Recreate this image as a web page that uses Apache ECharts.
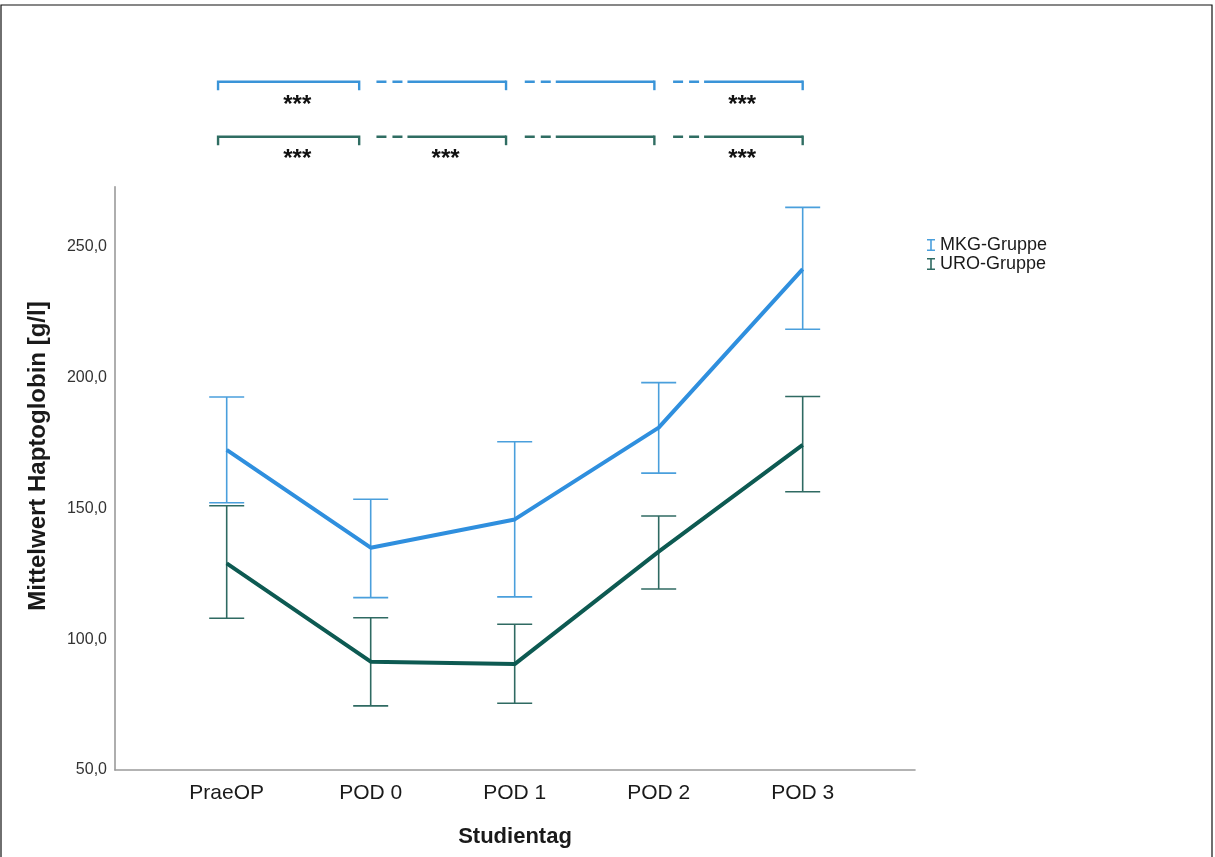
<!DOCTYPE html>
<html>
<head>
<meta charset="utf-8">
<script src="https://cdn.jsdelivr.net/npm/echarts@6/dist/echarts.min.js"></script>
<style>
html,body{margin:0;padding:0;background:#fff;}
#c{width:1215px;height:857px;}
</style>
</head>
<body>
<div id="c"></div>
<script>
// ---- data ----
const categories = ['PraeOP', 'POD 0', 'POD 1', 'POD 2', 'POD 3'];
const mkgMean = [172.4, 135.0, 145.8, 180.9, 241.5];
const mkgLow  = [152.2, 115.9, 116.2, 163.5, 218.5];
const mkgHigh = [192.6, 153.5, 175.5, 198.1, 265.1];
const uroMean = [129.0, 91.4, 90.5, 133.5, 174.3];
const uroLow  = [108.0, 74.5, 75.5, 119.2, 156.4];
const uroHigh = [151.0, 108.2, 105.7, 147.1, 192.8];
const yTicks = [50, 100, 150, 200, 250];
const seriesNames = ['MKG-Gruppe', 'URO-Gruppe'];
// significance brackets (x in category units)
const bracketStart = [-0.06, 1.04, 2.07, 3.10];
const bracketEnd   = [0.92, 1.94, 2.97, 4.00];
const bracketDashed = [false, true, true, true];
const starsX = [0.49, 1.52, 2.50, 3.58];
const starsMKG = ['***', '', '', '***'];
const starsURO = ['***', '***', '', '***'];

const C_MKG_LINE = '#2f8fde', C_MKG_BAR = '#4a9fdc';
const C_URO_LINE = '#0d5a52', C_URO_BAR = '#2f6a62';
const FONT = 'Liberation Sans, Arial, sans-serif';
const X_MIN = -0.7757, X_MAX = 4.78;

const chart = echarts.init(document.getElementById('c'), null, {renderer: 'canvas'});

function errorBarSeries(name, low, high, color) {
  return {
    name: name, type: 'custom', xAxisIndex: 0, yAxisIndex: 0, z: 2,
    data: low.map((v, i) => [i, v, high[i]]),
    encode: {x: 0, y: [1, 2]},
    renderItem: function (params, api) {
      const x = api.value(0);
      const lo = api.coord([x, api.value(1)]);
      const hi = api.coord([x, api.value(2)]);
      const hw = 17.5;
      const st = {stroke: color, lineWidth: 1.6};
      return {type: 'group', children: [
        {type: 'line', shape: {x1: lo[0], y1: lo[1], x2: hi[0], y2: hi[1]}, style: st},
        {type: 'line', shape: {x1: lo[0] - hw, y1: lo[1], x2: lo[0] + hw, y2: lo[1]}, style: st},
        {type: 'line', shape: {x1: hi[0] - hw, y1: hi[1], x2: hi[0] + hw, y2: hi[1]}, style: st}
      ]};
    }
  };
}

function bracketSeries(level, color, stars, starLevel) {
  return [{
    type: 'custom', xAxisIndex: 1, yAxisIndex: 1, silent: true,
    data: bracketStart.map((s, i) => [s, bracketEnd[i], level]),
    renderItem: function (params, api) {
      const i = params.dataIndex;
      const p1 = api.coord([api.value(0), api.value(2)]);
      const p2 = api.coord([api.value(1), api.value(2)]);
      const tick = 8.5;
      const st = {stroke: color, lineWidth: 2.4, fill: null};
      if (bracketDashed[i]) {
        return {type: 'group', children: [
          {type: 'line', shape: {x1: p1[0], y1: p1[1], x2: p2[0], y2: p2[1]},
            style: Object.assign({lineDash: [10, 6, 10, 5, 3000]}, st)},
          {type: 'line', shape: {x1: p2[0], y1: p2[1] - 1.2, x2: p2[0], y2: p2[1] + tick}, style: st}
        ]};
      }
      return {type: 'polyline', shape: {points: [[p1[0], p1[1] + tick], [p1[0], p1[1]], [p2[0], p2[1]], [p2[0], p2[1] + tick]]}, style: st};
    }
  }, {
    type: 'custom', xAxisIndex: 1, yAxisIndex: 1, silent: true,
    data: starsX.map((x) => [x, starLevel]),
    renderItem: function (params, api) {
      const t = stars[params.dataIndex];
      if (!t) return null;
      const p = api.coord([api.value(0), api.value(1)]);
      return {type: 'text', x: p[0], y: p[1] + 4, style: {
        text: t, fill: '#111', font: 'bold 24px ' + FONT, align: 'center', verticalAlign: 'middle'}};
    }
  }];
}

const iconI = 'path://M0,0H8V1.6H4.8V10.4H8V12H0V10.4H3.2V1.6H0Z';

const option = {
  backgroundColor: '#fff',
  animation: false,
  textStyle: {fontFamily: FONT},
  grid: [
    {left: 115, right: 300, top: 186.7, bottom: 87},
    {left: 115, right: 300, top: 60, height: 100}
  ],
  legend: {
    left: 922, top: 231, orient: 'vertical', itemGap: 1, itemWidth: 8, itemHeight: 13,
    textStyle: {fontSize: 18, color: '#1a1a1a', fontFamily: FONT},
    data: [
      {name: seriesNames[0], icon: iconI, itemStyle: {color: C_MKG_BAR, borderWidth: 0}},
      {name: seriesNames[1], icon: iconI, itemStyle: {color: C_URO_BAR, borderWidth: 0}}
    ]
  },
  xAxis: [{
    type: 'value', gridIndex: 0, min: X_MIN, max: X_MAX,
    name: 'Studientag', nameLocation: 'middle', nameGap: 56,
    nameTextStyle: {fontSize: 22, fontWeight: 'bold', color: '#1a1a1a', fontFamily: FONT},
    axisLine: {show: true, onZero: false, lineStyle: {color: '#9a9a9a', width: 1.6}},
    axisTick: {show: false},
    splitLine: {show: false},
    axisLabel: {
      customValues: categories.map((c, i) => i),
      formatter: (v) => categories[Math.round(v)] || '',
      fontSize: 21, color: '#1a1a1a', margin: 13, fontFamily: FONT
    }
  }, {
    type: 'value', gridIndex: 1, min: X_MIN, max: X_MAX, show: false
  }],
  yAxis: [{
    type: 'value', gridIndex: 0, min: 50, max: 273,
    axisLine: {show: true, onZero: false, lineStyle: {color: '#9a9a9a', width: 1.6}},
    axisTick: {show: false},
    splitLine: {show: false},
    axisLabel: {
      customValues: yTicks,
      formatter: (v) => v.toFixed(1).replace('.', ','),
      fontSize: 16, color: '#333', margin: 8, fontFamily: FONT
    }
  }, {
    type: 'value', gridIndex: 1, min: 0, max: 100, inverse: true, show: false
  }],
  graphic: [
    {type: 'text', x: 38, y: 456, rotation: Math.PI / 2, z: 10,
      style: {text: 'Mittelwert Haptoglobin [g/l]', font: 'bold 24px ' + FONT, fill: '#1a1a1a',
        align: 'center', verticalAlign: 'middle'}},
    {type: 'rect', shape: {x: 1, y: 5, width: 1211, height: 870}, z: -1,
      style: {fill: null, stroke: '#111', lineWidth: 1.2}}
  ],
  series: [
    errorBarSeries(seriesNames[0], mkgLow, mkgHigh, C_MKG_BAR),
    errorBarSeries(seriesNames[1], uroLow, uroHigh, C_URO_BAR),
    {name: seriesNames[0], type: 'line', xAxisIndex: 0, yAxisIndex: 0, z: 3,
      data: mkgMean.map((v, i) => [i, v]), showSymbol: false, symbol: 'none',
      lineStyle: {color: C_MKG_LINE, width: 4}, itemStyle: {color: C_MKG_BAR}},
    {name: seriesNames[1], type: 'line', xAxisIndex: 0, yAxisIndex: 0, z: 3,
      data: uroMean.map((v, i) => [i, v]), showSymbol: false, symbol: 'none',
      lineStyle: {color: C_URO_LINE, width: 4}, itemStyle: {color: C_URO_BAR}},
    ...bracketSeries(21.7, '#3a94d8', starsMKG, 41.7),
    ...bracketSeries(76.7, '#2f6d62', starsURO, 95)
  ]
};
chart.setOption(option);
</script>
</body>
</html>
